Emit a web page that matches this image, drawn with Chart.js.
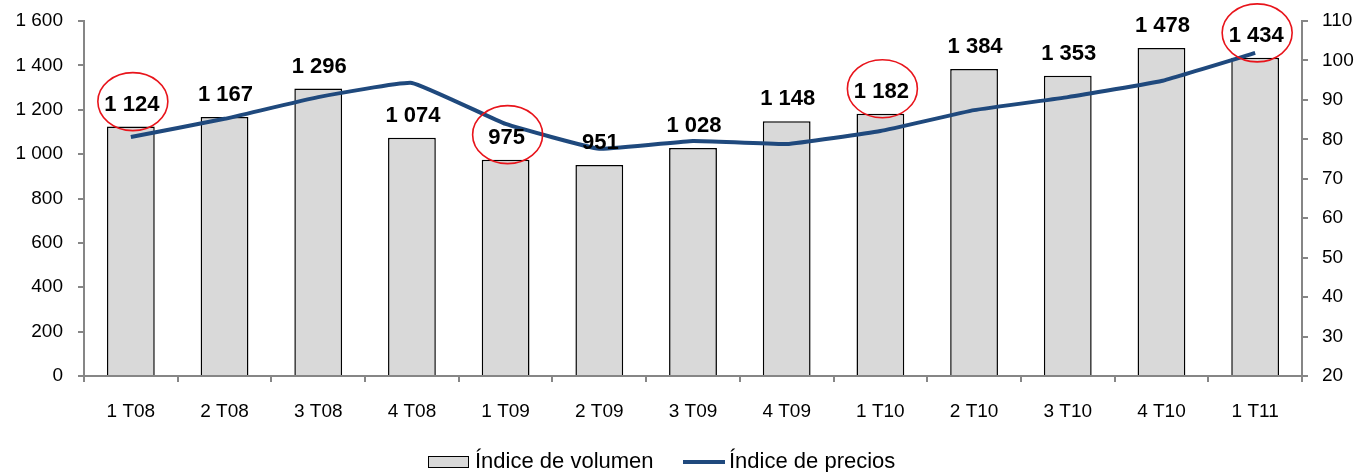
<!DOCTYPE html>
<html>
<head>
<meta charset="utf-8">
<script src="https://cdn.jsdelivr.net/npm/chart.js@4/dist/chart.umd.min.js"></script>
<style>
html,body{margin:0;padding:0;background:#fff;}
#wrap{width:1362px;height:472px;position:relative;}
</style>
</head>
<body>
<div id="wrap"><canvas id="c" width="1362" height="472"></canvas></div>
<script>
const categories = ['1 T08','2 T08','3 T08','4 T08','1 T09','2 T09','3 T09','4 T09','1 T10','2 T10','3 T10','4 T10','1 T11'];
const volumeIndex = [1124,1167,1296,1074,975,951,1028,1148,1182,1384,1353,1478,1434];
const priceIndex = [80.6,85.2,90.7,94.3,83.9,77.6,79.6,78.8,82.1,87.4,90.7,94.8,101.9];
const leftTicks = [0,200,400,600,800,1000,1200,1400,1600];
const rightTicks = [20,30,40,50,60,70,80,90,100,110];
const circledIdx = [0,4,8,12];
const seriesNames = ['Índice de volumen','Índice de precios'];

const FONT = "'Liberation Sans', Arial, sans-serif";
const fmt = v => String(v).replace(/\B(?=(\d{3})+(?!\d))/g, ' ');

const labelPlugin = {
  id: 'labels',
  afterDatasetsDraw(chart) {
    const ctx = chart.ctx;
    const meta = chart.getDatasetMeta(1);
    ctx.save();
    ctx.font = 'bold 22px ' + FONT;
    ctx.fillStyle = '#000';
    ctx.textAlign = 'center';
    ctx.textBaseline = 'middle';
    meta.data.forEach((el, i) => {
      const y = el.y - 22;
      ctx.fillText(fmt(volumeIndex[i]), el.x + 1, y);
      if (circledIdx.includes(i)) {
        ctx.beginPath();
        ctx.ellipse(el.x + 2, y - 3, 35, 29, 0, 0, Math.PI * 2);
        ctx.strokeStyle = '#E8141B';
        ctx.lineWidth = 1.6;
        ctx.stroke();
      }
    });
    ctx.restore();
  },
  afterDraw(chart) {
    const ctx = chart.ctx;
    ctx.save();
    ctx.font = '22px ' + FONT;
    ctx.textBaseline = 'middle';
    ctx.textAlign = 'left';
    const cy = 462;
    let x = 428;
    ctx.fillStyle = '#D9D9D9';
    ctx.fillRect(x, cy - 6, 41, 12);
    ctx.strokeStyle = '#000';
    ctx.lineWidth = 1;
    ctx.strokeRect(x + 0.5, cy - 5.5, 40, 11);
    x += 47;
    ctx.fillStyle = '#000';
    ctx.fillText(seriesNames[0], x, cy);
    x = 683;
    ctx.beginPath();
    ctx.moveTo(x, cy);
    ctx.lineTo(x + 42, cy);
    ctx.strokeStyle = '#1F497D';
    ctx.lineWidth = 4;
    ctx.stroke();
    x += 46;
    ctx.fillText(seriesNames[1], x, cy);
    ctx.restore();
  }
};

new Chart(document.getElementById('c'), {
  data: {
    labels: categories,
    datasets: [
      {
        type: 'line',
        label: seriesNames[1],
        data: priceIndex,
        yAxisID: 'y1',
        borderColor: '#1F497D',
        borderWidth: 4,
        pointRadius: 0,
        tension: 0.1,
        fill: false,
        order: 0
      },
      {
        type: 'bar',
        label: seriesNames[0],
        data: volumeIndex,
        yAxisID: 'y',
        backgroundColor: '#D9D9D9',
        borderColor: '#000',
        borderWidth: 1.5,
        categoryPercentage: 1,
        barPercentage: 0.51,
        order: 1
      }
    ]
  },
  options: {
    responsive: false,
    devicePixelRatio: 1,
    animation: false,
    layout: { padding: { top: 21, left: 0, right: 0, bottom: 0 } },
    plugins: { legend: { display: false }, tooltip: { enabled: false } },
    scales: {
      x: {
        type: 'category',
        offset: true,
        grid: { drawOnChartArea: false, drawTicks: true, tickLength: 6, color: '#868686', lineWidth: 2, offset: true },
        border: { color: '#868686', width: 2 },
        ticks: { color: '#000', font: { family: FONT, size: 19 }, padding: 18, maxRotation: 0 },
        afterFit(s) { s.height = 96; s.paddingLeft = 0; s.paddingRight = 0; }
      },
      y: {
        position: 'left',
        min: 0, max: 1600,
        afterBuildTicks(s) { s.ticks = leftTicks.map(v => ({ value: v })); },
        grid: { drawOnChartArea: false, drawTicks: true, tickLength: 6, color: '#868686', lineWidth: 2 },
        border: { color: '#868686', width: 2 },
        ticks: { color: '#000', font: { family: FONT, size: 19 }, padding: 15, callback: v => fmt(v) },
        afterFit(s) { s.width = 84; s.paddingTop = 0; s.paddingBottom = 0; }
      },
      y1: {
        position: 'right',
        min: 20, max: 110,
        afterBuildTicks(s) { s.ticks = rightTicks.map(v => ({ value: v })); },
        grid: { drawOnChartArea: false, drawTicks: true, tickLength: 6, color: '#868686', lineWidth: 2 },
        border: { color: '#868686', width: 2 },
        ticks: { color: '#000', font: { family: FONT, size: 19 }, padding: 14 },
        afterFit(s) { s.width = 60; s.paddingTop = 0; s.paddingBottom = 0; }
      }
    }
  },
  plugins: [labelPlugin]
});
</script>
</body>
</html>
